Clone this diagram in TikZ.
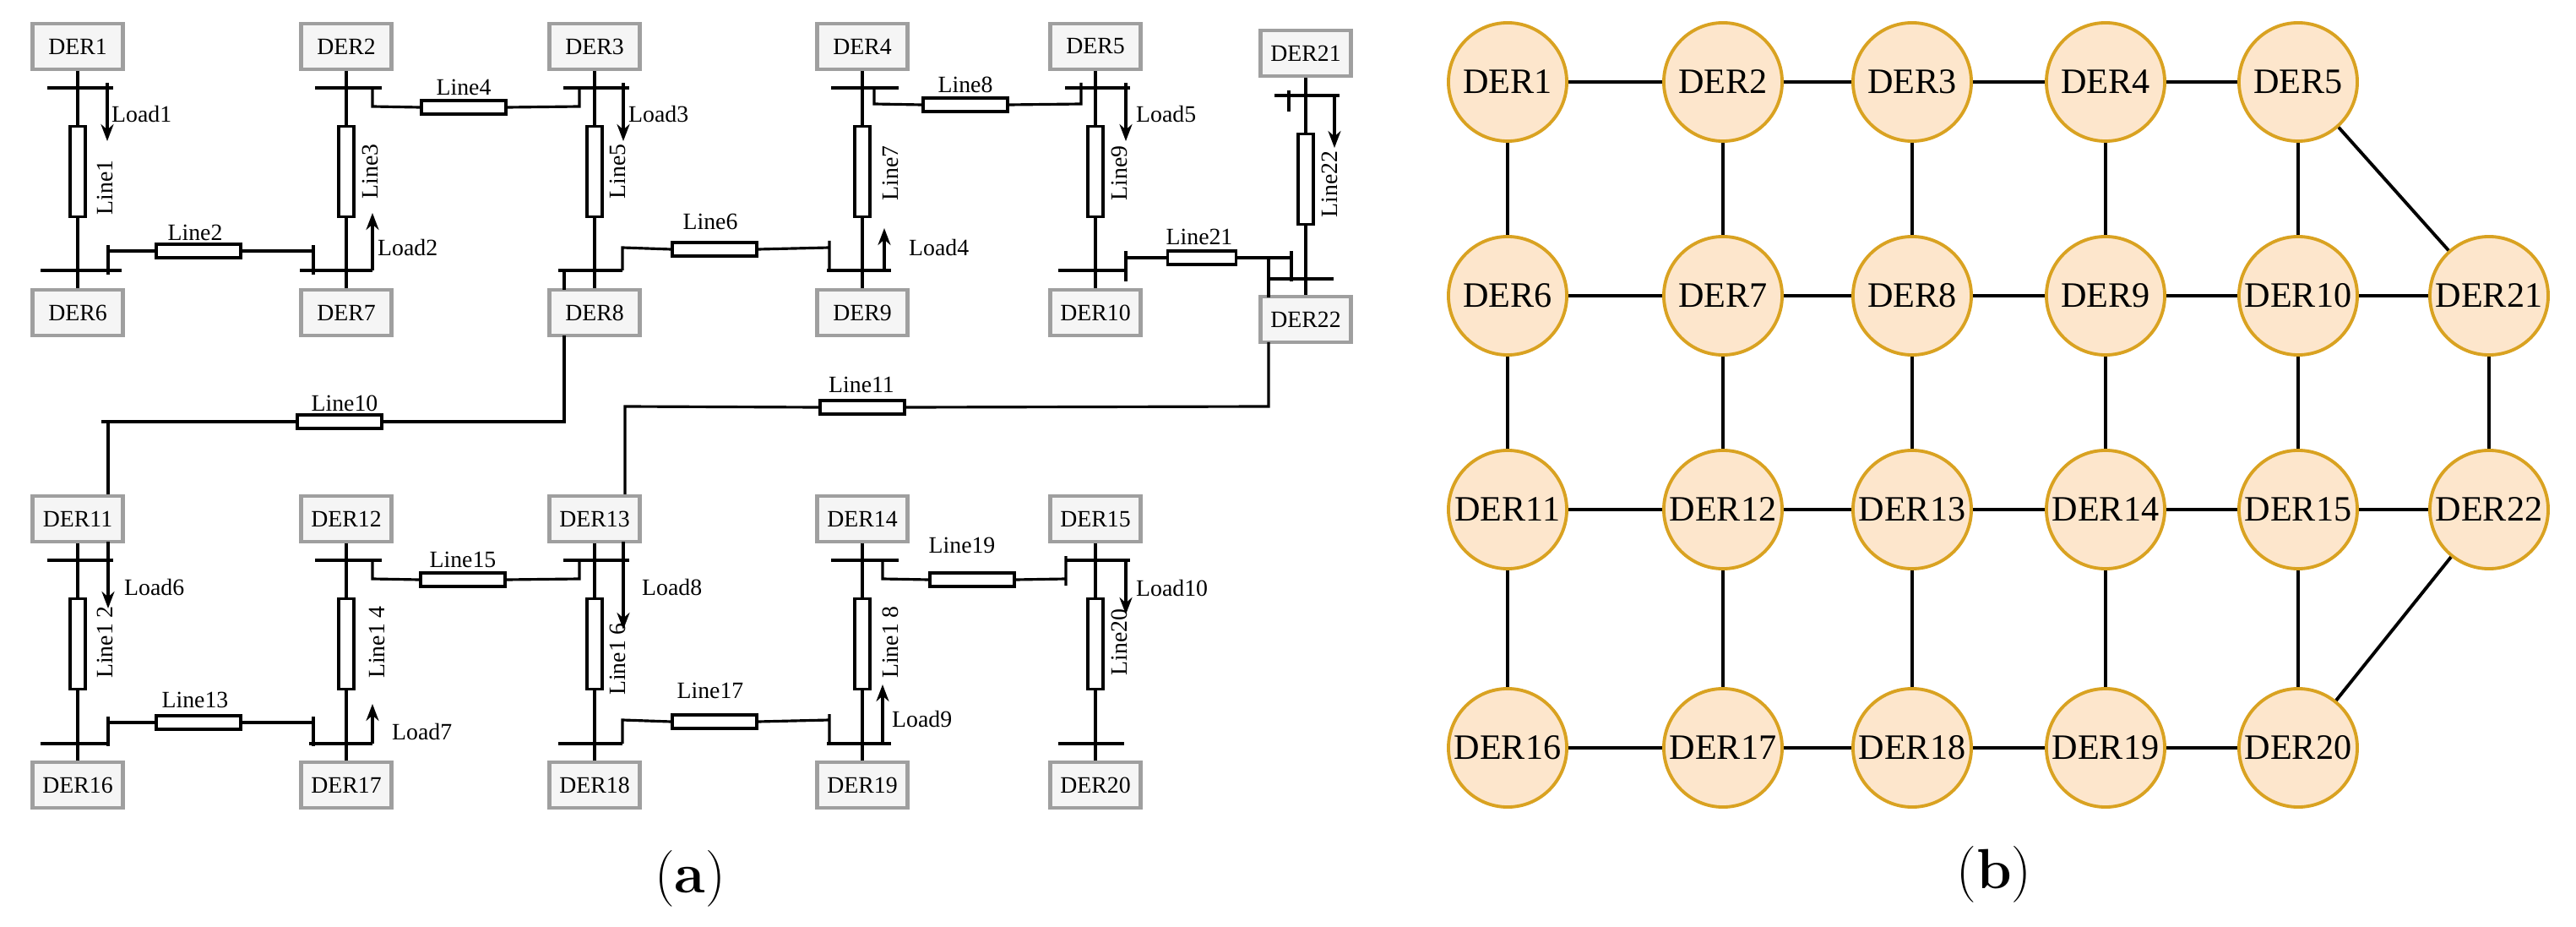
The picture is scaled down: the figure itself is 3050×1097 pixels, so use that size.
\documentclass[tikz,border=0pt]{standalone}
\usepackage{fontspec}
\newfontfamily\lib{Liberation Serif}
\usetikzlibrary{arrows.meta}
\newcommand{\fs}{\lib\fontsize{7.9}{9}\selectfont}
\newcommand{\fb}{\lib\fontsize{12}{14}\selectfont}
\newcommand{\fc}{\fontsize{19}{22}\selectfont}
\definecolor{cfill}{HTML}{FDE6CC}
\definecolor{cdraw}{HTML}{D9A221}
\begin{document}
\begin{tikzpicture}[x=0.01cm,y=-0.01cm,
 der/.style={draw=gray!75, line width=1.2pt, fill=gray!8, minimum width=1.07cm, minimum height=0.54cm, inner sep=0pt, font=\fs},
 rv/.style={draw, line width=0.9pt, fill=white, minimum width=0.18cm, minimum height=1.07cm, inner sep=0pt},
 rh/.style={draw, line width=0.9pt, fill=white, minimum width=1.0cm, minimum height=0.16cm, inner sep=0pt},
 w/.style={line width=0.9pt},
 bus/.style={line width=1.4pt},
 ld/.style={line width=0.9pt,-{Stealth[length=0.2cm,width=0.15cm]}},
 lbl/.style={font=\fs, inner sep=1pt},
 gn/.style={circle, draw=cdraw, fill=cfill, line width=1.1pt, minimum size=1.4cm, inner sep=0pt, font=\fb},
 ge/.style={line width=1.1pt}]
\useasboundingbox (0,0) rectangle (3050,1097);
% ---------- panel (a) boxes ----------
\foreach \x/\a/\b in {92/1/6,410/2/7,704/3/8,1021/4/9,1297/5/10}{
  \node[der] (DER\a) at (\x,55) {DER\a};
  \node[der] (DER\b) at (\x,370) {DER\b};
  \node[rv] (LV\a) at (\x,203) {};
  \draw[w] (DER\a.south) -- (LV\a.north);
  \draw[w] (LV\a.south) -- (DER\b.north);
}
\foreach \x/\a/\b in {92/11/16,410/12/17,704/13/18,1021/14/19,1297/15/20}{
  \node[der] (DER\a) at (\x,614) {DER\a};
  \node[der] (DER\b) at (\x,929) {DER\b};
  \node[rv] (LV\a) at (\x,762) {};
  \draw[w] (DER\a.south) -- (LV\a.north);
  \draw[w] (LV\a.south) -- (DER\b.north);
}
\node[der] (DER21) at (1546,63) {DER21};
\node[der] (DER22) at (1546,378) {DER22};
\node[rv] (LV21) at (1546,212) {};
\draw[w] (DER21.south) -- (LV21.north);
\draw[w] (LV21.south) -- (DER22.north);
% vertical line labels
\foreach \x/\y/\t in {124/222/Line1,438/203/Line3,731/203/Line5,1054/205/Line7,1325/205/Line9,1574/218/Line22,
  124/760/Line1 2,446/760/Line1 4,731/780/Line1 6,1054/760/Line1 8,1325/760/Line20}
  \node[lbl,rotate=90] at (\x,\y) {\t};
% ---------- top half ----------
\draw[bus] (56,104) -- (134,104);
\draw[w] (127,98) -- (127,104);
\draw[ld] (127,104) -- (127,167);
\node[lbl,anchor=west] at (128,135) {Load1};
\draw[bus] (48,320) -- (144,320);
\node[rh] (L2) at (235,297) {};
\draw[w] (128,290) -- (128,325) (128,297) -- (L2.west) (L2.east) -- (371,297) (371,290) -- (371,325);
\node[lbl] at (231,275) {Line2};
\draw[bus] (373,104) -- (452,104);
\node[rh] (L4) at (549,127) {};
\draw[w] (441,104) -- (441,126) -- (L4.west) (L4.east) -- (686,126) -- (686,104);
\node[lbl] at (549,103) {Line4};
\draw[bus] (355,320) -- (441,320);
\draw[ld] (441,320) -- (441,252);
\node[lbl,anchor=west] at (443,293) {Load2};
\draw[bus] (667,104) -- (745,104);
\draw[w] (738,98) -- (738,104);
\draw[ld] (738,104) -- (738,167);
\node[lbl,anchor=west] at (740,135) {Load3};
\draw[bus] (661,320) -- (737,320);
\node[rh] (L6) at (846,295) {};
\draw[w] (737,320) -- (737,293) -- (L6.west) (L6.east) -- (982,293) (982,285) -- (982,322);
\node[lbl] at (841,262) {Line6};
\node[rh] (L10) at (402,499) {};
\draw[w] (668,320) -- (668,343) (668,397) -- (668,499) -- (L10.east) (L10.west) -- (120,499) (128,499) -- (DER11.north -| 128,0);
\node[lbl] at (408,477) {Line10};
\draw[bus] (984,104) -- (1064,104);
\node[rh] (L8) at (1143,124) {};
\draw[w] (1035,104) -- (1035,123) -- (L8.west) (L8.east) -- (1280,123) -- (1280,98);
\node[lbl] at (1143,100) {Line8};
\draw[bus] (979,320) -- (1055,320);
\draw[ld] (1047,320) -- (1047,270);
\node[lbl,anchor=west] at (1072,293) {Load4};
\draw[bus] (1261,104) -- (1338,104);
\draw[w] (1333,98) -- (1333,104);
\draw[ld] (1333,104) -- (1333,167);
\node[lbl,anchor=west] at (1341,135) {Load5};
\draw[bus] (1253,320) -- (1331,320);
\node[rh,minimum width=0.81cm] (L21) at (1423,305) {};
\draw[w] (1333,297) -- (1333,333) (1333,305) -- (L21.west) (L21.east) -- (1529,305) (1529,297) -- (1529,333) (1502,305) -- (1502,352);
\node[lbl] at (1420,280) {Line21};
\draw[bus] (1509,113) -- (1586,113);
\draw[w] (1526,107) -- (1526,132);
\draw[ld] (1580,113) -- (1580,175);
\draw[bus] (1502,330) -- (1579,330);
\node[rh] (L11) at (1021,482) {};
\draw[w] (1502,405) -- (1502,481) -- (L11.east) (L11.west) -- (740,481) -- (DER13.north -| 740,0);
\node[lbl] at (1020,455) {Line11};
% ---------- bottom half ----------
\draw[bus] (56,663) -- (134,663);
\draw[ld] (128,641) -- (128,720);
\node[lbl,anchor=west] at (143,695) {Load6};
\draw[bus] (48,880) -- (128,880);
\node[rh] (L13) at (235,855) {};
\draw[w] (128,848) -- (128,883) (128,855) -- (L13.west) (L13.east) -- (371,855) (371,848) -- (371,883);
\node[lbl] at (231,828) {Line13};
\draw[bus] (373,663) -- (452,663);
\node[rh] (L15) at (548,686) {};
\draw[w] (441,663) -- (441,685) -- (L15.west) (L15.east) -- (686,685) -- (686,663);
\node[lbl] at (548,662) {Line15};
\draw[bus] (366,880) -- (441,880);
\draw[ld] (441,880) -- (441,833);
\node[lbl,anchor=west] at (460,866) {Load7};
\draw[bus] (667,663) -- (745,663);
\draw[ld] (738,641) -- (738,745);
\node[lbl,anchor=west] at (756,695) {Load8};
\draw[bus] (661,880) -- (737,880);
\node[rh] (L17) at (846,854) {};
\draw[w] (737,880) -- (737,852) -- (L17.west) (L17.east) -- (982,852) (982,845) -- (982,880);
\node[lbl] at (841,817) {Line17};
\draw[bus] (984,663) -- (1064,663);
\node[rh] (L19) at (1151,686) {};
\draw[w] (1045,663) -- (1045,685) -- (L19.west) (L19.east) -- (1262,685) (1262,658) -- (1262,693);
\node[lbl] at (1139,645) {Line19};
\draw[bus] (979,880) -- (1055,880);
\draw[ld] (1045,880) -- (1045,810);
\node[lbl,anchor=west] at (1052,851) {Load9};
\draw[bus] (1262,663) -- (1338,663);
\draw[ld] (1333,663) -- (1333,727);
\node[lbl,anchor=west] at (1341,696) {Load10};
\draw[bus] (1253,880) -- (1331,880);
\node[font=\fc] at (817,1040) {(\textbf{a})};
% ---------- panel (b) ----------
\foreach \x [count=\i] in {1785,2040,2264,2493,2721}{
  \pgfmathtruncatemacro{\b}{\i+5}
  \pgfmathtruncatemacro{\c}{\i+10}
  \pgfmathtruncatemacro{\d}{\i+15}
  \node[gn] (R\i) at (\x,97) {DER\i};
  \node[gn] (R\b) at (\x,350) {DER\b};
  \node[gn] (R\c) at (\x,603) {DER\c};
  \node[gn] (R\d) at (\x,885) {DER\d};
}
\node[gn] (R21) at (2947,350) {DER21};
\node[gn] (R22) at (2947,603) {DER22};
\foreach \a/\b in {1/2,2/3,3/4,4/5,6/7,7/8,8/9,9/10,10/21,11/12,12/13,13/14,14/15,15/22,16/17,17/18,18/19,19/20,
  1/6,6/11,11/16,2/7,7/12,12/17,3/8,8/13,13/18,4/9,9/14,14/19,5/10,10/15,15/20,21/22,5/21,22/20}
  \draw[ge] (R\a) -- (R\b);
\node[font=\fc] at (2361,1035) {(\textbf{b})};
\end{tikzpicture}
\end{document}
